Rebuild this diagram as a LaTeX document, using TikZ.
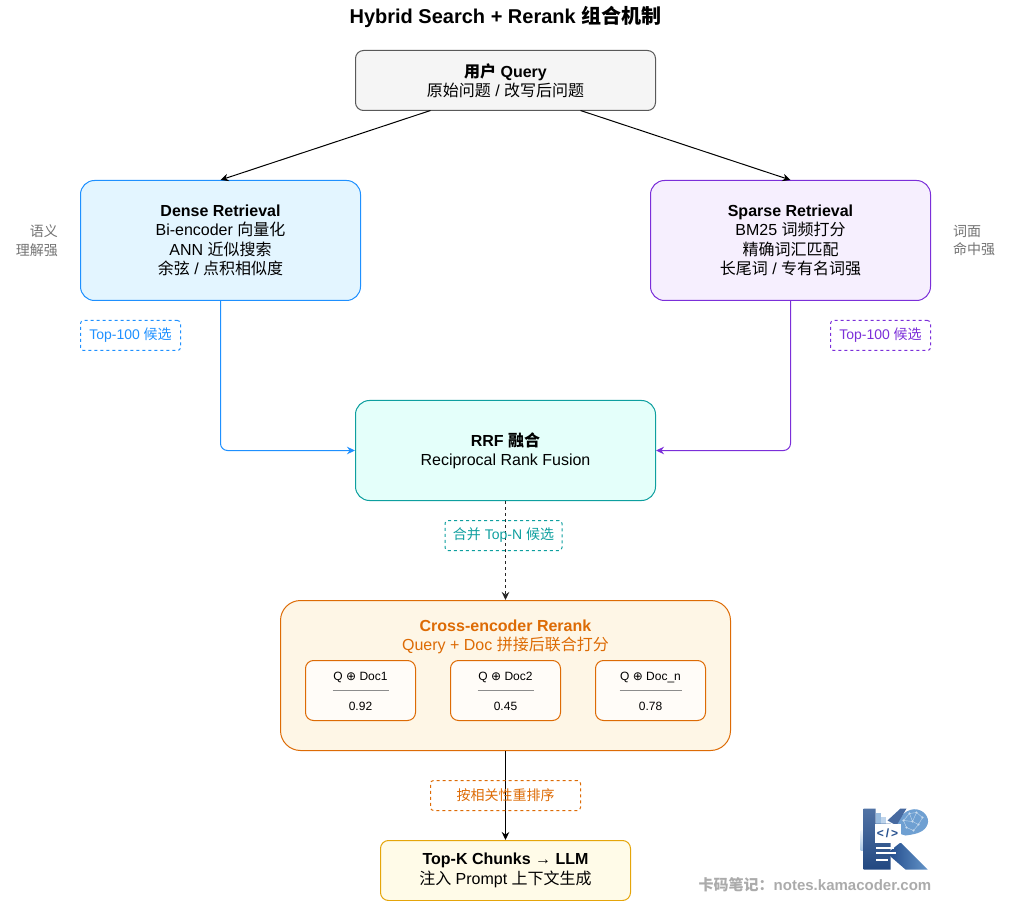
\documentclass[tikz,border=0pt]{standalone}
\usepackage{fontspec}
\setmainfont{Liberation Sans}
\newfontfamily\cjk{Noto Sans CJK SC}
\newfontfamily\symb{DejaVu Sans}
\newcommand{\zh}[1]{{\cjk #1}}
\usetikzlibrary{arrows.meta, positioning}
\definecolor{denseblue}{HTML}{1E90FF}
\definecolor{densefill}{HTML}{E3F5FF}
\definecolor{sparsepurple}{HTML}{7B2FD9}
\definecolor{sparsefill}{HTML}{F6EFFE}
\definecolor{rrfteal}{HTML}{0E9F9F}
\definecolor{rrffill}{HTML}{E4FFFA}
\definecolor{rerankorange}{HTML}{DD6B05}
\definecolor{rerankfill}{HTML}{FEF6E6}
\definecolor{topkline}{HTML}{E5A50A}
\definecolor{topkfill}{HTML}{FFFBE8}
\definecolor{logoblue}{HTML}{26508F}
\definecolor{logolight}{HTML}{6FA0D2}

\begin{document}
\begin{tikzpicture}[x=1pt, y=-1pt, node distance=100pt, >={Stealth[length=8pt,width=7.5pt]},
                    main node/.style= {rectangle,
                      rounded corners=14pt,
                      draw,
                      line width=1pt,
                      align=center,
                      font=\fontsize{16}{19.4}\selectfont,
                      inner sep=0pt},
                    tag node/.style= {rectangle,
                      rounded corners=3pt,
                      draw,
                      line width=1pt,
                      dash pattern=on 3pt off 3pt,
                      font=\fontsize{14}{16}\selectfont,
                      minimum height=30pt,
                      inner sep=0pt},
                    score node/.style= {rectangle,
                      rounded corners=8pt,
                      draw=rerankorange,
                      line width=1pt,
                      fill=white!70!rerankfill,
                      minimum width=110pt,
                      minimum height=60pt,
                      inner sep=0pt},
                    side note/.style= {align=right,
                      text=black!55,
                      font=\fontsize{14}{18.5}\selectfont,
                      inner sep=0pt},
                    conn/.style= {->, line width=1pt}]

  \useasboundingbox (-0.5,-0.5) rectangle (1009.5,900.5);

  \node (title) at (505,16.5) {\fontsize{20}{24}\selectfont\bfseries Hybrid Search + Rerank \zh{组合机制}};

  \node[main node, draw=black!65, fill=black!4, minimum width=300pt, minimum height=60pt, rounded corners=8pt] (query) at (505,80)
    {\textbf{\zh{用户} Query}\\ \zh{原始问题} / \zh{改写后问题}};

  \node[main node, draw=denseblue, fill=densefill, minimum width=280pt, minimum height=120pt] (dense) [below of=query, xshift=-285pt, yshift=-60pt]
    {\textbf{Dense Retrieval}\\ Bi-encoder \zh{向量化}\\ ANN \zh{近似搜索}\\ \zh{余弦} / \zh{点积相似度}};
  \node[main node, draw=sparsepurple, fill=sparsefill, minimum width=280pt, minimum height=120pt] (sparse) [below of=query, xshift=285pt, yshift=-60pt]
    {\textbf{Sparse Retrieval}\\ BM25 \zh{词频打分}\\ \zh{精确词汇匹配}\\ \zh{长尾词} / \zh{专有名词强}};

  \node[side note, anchor=east] (note1) at (57.5,240) {\zh{语义}\\ \zh{理解强}};
  \node[side note, anchor=west, align=left] (note2) at (952.5,240) {\zh{词面}\\ \zh{命中强}};

  \node[tag node, draw=denseblue, text=denseblue, minimum width=100pt] (tag1) at (130,335) {Top-100 \zh{候选}};
  \node[tag node, draw=sparsepurple, text=sparsepurple, minimum width=100pt] (tag2) at (880,335) {Top-100 \zh{候选}};

  \node[main node, draw=rrfteal, fill=rrffill, minimum width=300pt, minimum height=100pt] (rrf) [below of=query, yshift=-270pt]
    {\textbf{RRF \zh{融合}}\\ Reciprocal Rank Fusion};

  \node[main node, draw=rerankorange, fill=rerankfill, minimum width=450pt, minimum height=150pt, rounded corners=20pt] (rerank) [below of=rrf, yshift=-125pt] {};
  \node[align=center, text=rerankorange, font=\fontsize{16}{19.4}\selectfont, inner sep=0pt] (reranktext) at (505,636.5)
    {\textbf{Cross-encoder Rerank}\\ Query + Doc \zh{拼接后联合打分}};

  \node[score node] (doc1) at (360,690) {};
  \node[score node] (doc2) [right of=doc1, xshift=45pt] {};
  \node[score node] (doc3) [right of=doc2, xshift=45pt] {};

  % score cards
  \foreach \card/\docname/\val/\half in {doc1/Doc1/0.92/28, doc2/Doc2/0.45/28, doc3/Doc\_n/0.78/31} {
    \node[font=\fontsize{12}{14}\selectfont, inner sep=0pt, anchor=base] (\card name) at ([yshift=9.7pt]\card.center) {Q {\symb ⊕} \docname};
    \node[font=\fontsize{12}{14}\selectfont, inner sep=0pt, anchor=base] (\card val) at ([yshift=-19.5pt]\card.center) {\val};
    \draw[black!45, line width=0.8pt] ([xshift=-\half pt]\card.center) -- ([xshift=\half pt]\card.center);
  }

  \node[main node, draw=topkline, fill=topkfill, minimum width=250pt, minimum height=60pt, rounded corners=8pt] (topk) [below of=rerank, yshift=-95pt]
    {\textbf{Top-K Chunks → LLM}\\ \zh{注入} Prompt \zh{上下文生成}};

  \coordinate (qleft) at (430,110);
  \coordinate (qright) at (580,110);

  \path[conn, black]
    (qleft) edge (dense.north)
    (qright) edge (sparse.north);
  \draw[conn, denseblue, rounded corners=7pt] (dense.south) |- (rrf.west);
  \draw[conn, sparsepurple, rounded corners=7pt] (sparse.south) |- (rrf.east);
  \draw[conn, black!85, dash pattern=on 3pt off 3pt] (rrf.south) -- (rerank.north);
  \draw[conn, black] (rerank.south) -- (topk.north);

  \node[tag node, draw=rrfteal, text=rrfteal, minimum width=117pt] (tag3) at (503,535) {\zh{合并} Top-N \zh{候选}};
  \node[tag node, draw=rerankorange, text=rerankorange, minimum width=150pt] (tag4) at (505,795) {\zh{按相关性重排序}};

  % logo
  \shade[top color=logolight!10, bottom color=logolight!60] (860,830) rectangle (863,850);
  \fill[logolight!70] (875,812) rectangle (880,823);
  \fill[logolight!45] (880,816) rectangle (885,823);
  \fill[logolight] (895,832) .. controls (896,815) and (908,807) .. (917,809)
    .. controls (926,811) and (930,820) .. (926,826)
    .. controls (922,833) and (912,834) .. (905,835) -- cycle;
  \foreach \dotx/\doty in {903/820, 909/813, 916/812, 922/817, 912/821, 918/824, 906/827, 913/830} {
    \fill[white!70!logolight] (\dotx,\doty) circle (1.1pt);
  }
  \draw[white!60!logolight, line width=0.4pt] (903,820) -- (909,813) -- (916,812) -- (922,817) -- (918,824) -- (912,821) -- (903,820) -- (906,827) -- (913,830) -- (918,824) (909,813) -- (912,821) -- (916,812);
  \shade[top color=logoblue!80, bottom color=logoblue!90!black] (863,808) -- (875,808) -- (875,823) -- (890,823) -- (890,869) -- (863,869) -- cycle;
  \fill[logoblue!85] (887,820) -- (900,808) -- (906,808) -- (896,825) -- cycle;
  \shade[left color=logoblue, right color=logolight!85!logoblue] (890,850) -- (900,842) -- (927,869) -- (905,869) -- (890,856) -- cycle;
  \fill[white] (874,823) rectangle (900,842);
  \node[font=\bfseries\fontsize{12}{12}\selectfont, text=logoblue, inner sep=0pt] (logocode) at (887,832.5) {<\,/\,>};
  \fill[white] (875,846) rectangle (893,848);
  \fill[white] (875,851) rectangle (895,853);
  \fill[white] (875,858) rectangle (887,860);

  \node[text=black!33, anchor=east, inner sep=0pt, font=\fontsize{15}{16}\selectfont\bfseries] (mark) at (931,884) {\zh{卡码笔记：}notes.kamacoder.com};

\end{tikzpicture}
\end{document}
